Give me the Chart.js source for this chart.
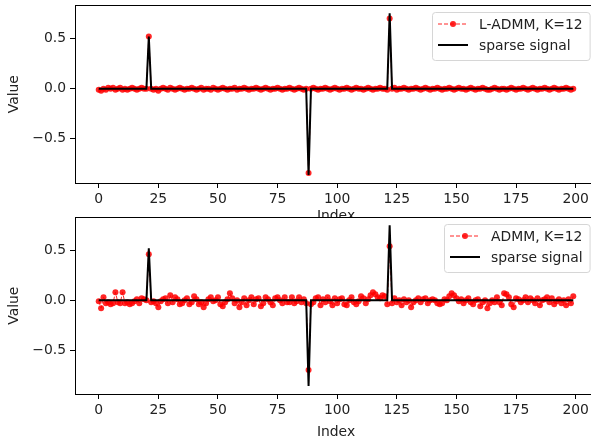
<!DOCTYPE html>
<html>
<head>
<meta charset="utf-8">
<script src="https://cdn.jsdelivr.net/npm/chart.js@4.4.1/dist/chart.umd.min.js"></script>
<style>
  html, body { margin: 0; padding: 0; background: #fff; overflow: hidden; }
  .wrap { position: relative; width: 591px; height: 441px; overflow: hidden; }
  canvas { position: absolute; left: 0; }
  #topChart { top: -7px; }
  #bottomChart { top: 205px; }
</style>
</head>
<body>
<div class="wrap">
  <canvas id="topChart" width="612" height="232" style="width:612px;height:232px"></canvas>
  <canvas id="bottomChart" width="612" height="236" style="width:612px;height:236px"></canvas>
</div>
<script>
// signal index 0..199
const indexValues = Array.from({ length: 200 }, (_, i) => i);
const xTicks = [0, 25, 50, 75, 100, 125, 150, 175, 200];
const yTicks = [-0.5, 0, 0.5];

// ground truth sparse signal (3 spikes)
const sparseSignal = [
  0, 0, 0, 0, 0, 0, 0, 0, 0, 0, 0, 0, 0, 0, 0, 0, 0, 0, 0, 0,
  0, 0.52, 0, 0, 0, 0, 0, 0, 0, 0, 0, 0, 0, 0, 0, 0, 0, 0, 0, 0,
  0, 0, 0, 0, 0, 0, 0, 0, 0, 0, 0, 0, 0, 0, 0, 0, 0, 0, 0, 0,
  0, 0, 0, 0, 0, 0, 0, 0, 0, 0, 0, 0, 0, 0, 0, 0, 0, 0, 0, 0,
  0, 0, 0, 0, 0, 0, 0, 0, -0.86, 0, 0, 0, 0, 0, 0, 0, 0, 0, 0, 0,
  0, 0, 0, 0, 0, 0, 0, 0, 0, 0, 0, 0, 0, 0, 0, 0, 0, 0, 0, 0,
  0, 0, 0.75, 0, 0, 0, 0, 0, 0, 0, 0, 0, 0, 0, 0, 0, 0, 0, 0, 0,
  0, 0, 0, 0, 0, 0, 0, 0, 0, 0, 0, 0, 0, 0, 0, 0, 0, 0, 0, 0,
  0, 0, 0, 0, 0, 0, 0, 0, 0, 0, 0, 0, 0, 0, 0, 0, 0, 0, 0, 0,
  0, 0, 0, 0, 0, 0, 0, 0, 0, 0, 0, 0, 0, 0, 0, 0, 0, 0, 0, 0,
];

// L-ADMM reconstruction (top)
const ladmmValues = [
  -0.01, -0.02, 0.00, -0.01, 0.01, 0.00, 0.01, -0.01, 0.00, 0.01, -0.01, 0.00, -0.01, 0.00, 0.01, 0.00, -0.01, 0.00, 0.01, 0.00,
  0.00, 0.52, 0.00, -0.01, 0.00, -0.02, 0.00, 0.01, 0.00, -0.01, 0.01, 0.00, -0.01, 0.00, 0.01, 0.00, -0.01, 0.00, 0.00, 0.01,
  0.00, -0.01, 0.00, 0.01, -0.01, 0.00, 0.00, -0.01, 0.01, 0.00, -0.01, 0.00, 0.01, 0.00, -0.01, 0.00, 0.00, 0.01, -0.01, 0.00,
  0.00, 0.01, 0.00, -0.01, 0.00, 0.00, 0.01, 0.00, -0.01, 0.00, 0.01, 0.00, -0.01, 0.00, 0.00, 0.01, 0.00, -0.01, 0.00, 0.00,
  0.01, 0.00, -0.01, 0.00, 0.01, 0.00, -0.01, 0.00, -0.84, 0.00, 0.01, 0.00, -0.01, 0.00, 0.00, 0.01, 0.00, -0.01, 0.00, 0.01,
  0.00, -0.01, 0.00, 0.00, 0.01, 0.00, -0.01, 0.00, 0.01, 0.00, 0.00, -0.01, 0.00, 0.01, 0.00, -0.01, 0.00, 0.00, 0.01, 0.00,
  0.00, -0.01, 0.70, 0.00, 0.01, -0.01, 0.00, 0.00, 0.01, 0.00, -0.01, 0.00, 0.00, 0.01, 0.00, -0.01, 0.00, 0.01, 0.00, -0.01,
  0.00, 0.00, 0.01, 0.00, -0.01, 0.00, 0.00, 0.01, 0.00, -0.01, 0.00, 0.01, 0.00, 0.00, -0.01, 0.00, 0.01, 0.00, -0.01, 0.00,
  0.00, 0.01, 0.00, -0.01, -0.01, 0.00, 0.01, 0.00, -0.01, 0.00, 0.00, -0.01, 0.00, 0.01, 0.00, -0.01, 0.00, 0.00, 0.01, 0.00,
  -0.01, 0.00, 0.01, 0.00, -0.01, 0.00, 0.00, 0.01, 0.00, -0.01, 0.00, 0.01, 0.00, -0.01, 0.00, 0.00, 0.01, 0.00, -0.01, 0.00,
];

// plain ADMM reconstruction (bottom)
const admmValues = [
  -0.01, -0.08, 0.03, -0.03, -0.02, -0.04, -0.03, 0.08, -0.02, -0.03, 0.08, -0.03, -0.02, -0.04, -0.03, -0.01, 0.01, -0.03, 0.02, 0.01,
  0.00, 0.46, -0.02, -0.01, -0.03, -0.07, -0.01, 0.01, 0.02, -0.03, 0.05, -0.02, 0.03, 0.01, -0.04, -0.03, 0.00, 0.02, -0.04, -0.02,
  0.04, 0.01, -0.04, -0.02, -0.07, -0.03, 0.01, 0.03, -0.01, 0.00, 0.03, -0.04, -0.06, -0.02, 0.01, 0.07, 0.02, -0.03, 0.00, -0.07,
  -0.02, 0.02, -0.05, 0.00, 0.03, -0.04, 0.01, 0.02, -0.06, -0.03, 0.03, 0.01, -0.02, -0.05, 0.02, 0.03, 0.00, -0.03, 0.03, -0.02,
  -0.02, 0.03, -0.03, -0.01, 0.03, -0.02, 0.01, -0.03, -0.70, -0.04, -0.02, 0.02, 0.03, -0.05, 0.01, -0.02, 0.03, -0.01, -0.05, 0.02,
  -0.03, 0.01, 0.02, -0.04, -0.05, 0.00, 0.03, -0.02, -0.04, -0.01, 0.04, 0.02, -0.03, 0.01, 0.05, 0.08, 0.06, 0.03, 0.02, 0.05,
  0.04, -0.04, 0.54, -0.03, 0.02, -0.02, 0.00, -0.05, 0.01, -0.02, 0.00, -0.07, -0.02, 0.00, 0.02, -0.02, 0.01, 0.02, -0.03, 0.00,
  0.01, 0.00, -0.03, -0.04, -0.03, 0.01, 0.00, 0.04, 0.07, 0.05, 0.02, -0.01, 0.01, -0.03, 0.00, 0.02, -0.02, -0.04, 0.00, 0.01,
  -0.06, -0.02, 0.00, -0.08, -0.03, 0.00, -0.02, 0.03, -0.02, -0.05, 0.07, 0.06, 0.03, -0.04, -0.07, 0.02, 0.01, -0.02, 0.00, 0.03,
  -0.02, 0.02, 0.00, -0.03, 0.02, -0.05, 0.00, 0.01, 0.03, -0.02, 0.02, -0.04, -0.01, 0.01, -0.03, 0.00, -0.05, 0.01, -0.03, 0.04,
];

const FONT = "'DejaVu Sans', sans-serif";
const FONT_SIZE = 13.9;
const RED = 'rgba(255, 0, 0, 0.85)';

// white plot background + top/right spines
const framePlugin = {
  id: 'frame',
  beforeDraw(chart) {
    const { ctx, chartArea: a } = chart;
    ctx.save();
    ctx.fillStyle = '#fff';
    ctx.fillRect(a.left, a.top, a.right - a.left, a.bottom - a.top);
    ctx.restore();
  },
  afterDraw(chart) {
    const { ctx, chartArea: a } = chart;
    ctx.save();
    ctx.strokeStyle = '#000';
    ctx.lineWidth = 1;
    ctx.strokeRect(Math.round(a.left) + 0.5, Math.round(a.top) + 0.5, Math.round(a.right - a.left), Math.round(a.bottom - a.top));
    ctx.restore();
  },
};

// matplotlib style legend in the upper right corner
const legendPlugin = {
  id: 'mplLegend',
  afterDraw(chart, args, opts) {
    const { ctx, chartArea: a } = chart;
    ctx.save();
    ctx.font = FONT_SIZE + 'px ' + FONT;
    const textW = Math.max(...opts.labels.map((l) => ctx.measureText(l).width));
    const w = 47 + textW + 7;
    const h = 48;
    const x = Math.round(a.right - 7 - w);
    const y = Math.round(a.top + 7);
    ctx.beginPath();
    ctx.roundRect(x + 0.5, y + 0.5, w, h, 3);
    ctx.fillStyle = 'rgba(255,255,255,0.8)';
    ctx.fill();
    ctx.strokeStyle = '#d6d6d6';
    ctx.lineWidth = 1;
    ctx.stroke();

    const row1 = y + 12;
    const row2 = y + 33;
    // dashed red handle with marker
    ctx.strokeStyle = RED;
    ctx.lineWidth = 1;
    ctx.setLineDash([4, 2]);
    ctx.beginPath();
    ctx.moveTo(x + 6, row1);
    ctx.lineTo(x + 36, row1);
    ctx.stroke();
    ctx.setLineDash([]);
    ctx.fillStyle = RED;
    ctx.beginPath();
    ctx.arc(x + 21, row1, 3, 0, Math.PI * 2);
    ctx.fill();
    // black handle
    ctx.strokeStyle = '#000';
    ctx.lineWidth = 2;
    ctx.beginPath();
    ctx.moveTo(x + 6, row2);
    ctx.lineTo(x + 36, row2);
    ctx.stroke();

    ctx.fillStyle = '#222';
    ctx.textBaseline = 'middle';
    ctx.fillText(opts.labels[0], x + 47, row1 + 1);
    ctx.fillText(opts.labels[1], x + 47, row2 + 1);
    ctx.restore();
  },
};

function makeChart(canvasId, estimate, label, xAxisHeight) {
  const ctx = document.getElementById(canvasId);
  return new Chart(ctx, {
    type: 'line',
    data: {
      datasets: [
        {
          label: 'sparse signal',
          data: indexValues.map((i) => ({ x: i, y: sparseSignal[i] })),
          borderColor: '#000',
          borderWidth: 2,
          pointRadius: 0,
          tension: 0,
          order: 0,
        },
        {
          label: label,
          data: indexValues.map((i) => ({ x: i, y: estimate[i] })),
          borderColor: RED,
          backgroundColor: RED,
          borderWidth: 1,
          borderDash: [4, 2],
          pointRadius: 3,
          pointBorderWidth: 0,
          tension: 0,
          order: 1,
        },
      ],
    },
    options: {
      responsive: false,
      animation: false,
      layout: { padding: { top: 5, right: 15, left: 0, bottom: 0 } },
      scales: {
        x: {
          type: 'linear',
          min: -9.95,
          max: 208.95,
          afterBuildTicks: (s) => { s.ticks = xTicks.map((v) => ({ value: v })); },
          afterFit: (s) => { s.height = xAxisHeight; },
          grid: { drawOnChartArea: false, drawTicks: true, tickLength: 5, color: '#000', tickWidth: 1 },
          border: { display: true, color: '#000', width: 1 },
          ticks: { color: '#222', font: { family: FONT, size: FONT_SIZE }, padding: 3, maxRotation: 0 },
          title: { display: true, text: 'Index', color: '#222', font: { family: FONT, size: FONT_SIZE }, padding: 0 },
        },
        y: {
          min: -0.94,
          max: 0.83,
          afterBuildTicks: (s) => { s.ticks = yTicks.map((v) => ({ value: v })); },
          afterFit: (s) => { s.width = 75; },
          grid: { drawOnChartArea: false, drawTicks: true, tickLength: 5, color: '#000', tickWidth: 1 },
          border: { display: true, color: '#000', width: 1 },
          ticks: {
            color: '#222',
            font: { family: FONT, size: FONT_SIZE },
            padding: 4,
            callback: (v) => v.toFixed(1).replace('-', '\u2212'),
          },
          title: { display: true, text: 'Value', color: '#222', font: { family: FONT, size: FONT_SIZE }, padding: { top: 6, bottom: 0 } },
        },
      },
      plugins: {
        legend: { display: false },
        tooltip: { enabled: false },
        mplLegend: { labels: [label, 'sparse signal'] },
      },
    },
    plugins: [framePlugin, legendPlugin],
  });
}

makeChart('topChart', ladmmValues, 'L-ADMM, K=12', 42);
makeChart('bottomChart', admmValues, 'ADMM, K=12', 47);
</script>
</body>
</html>
